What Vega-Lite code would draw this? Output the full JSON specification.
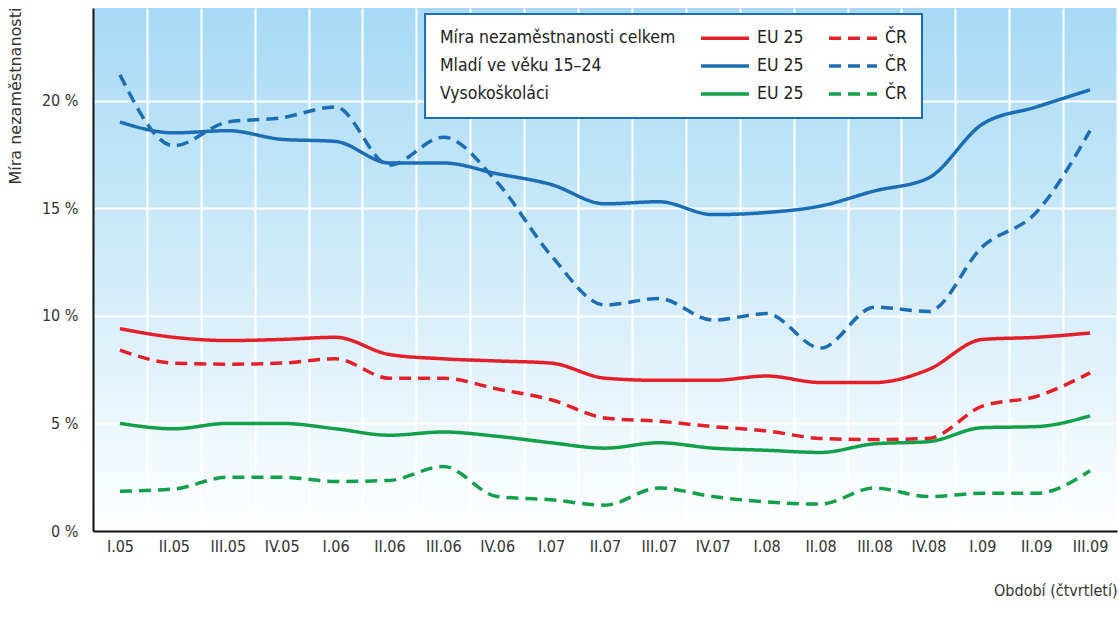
{
  "$schema": "https://vega.github.io/schema/vega-lite/v6.json",
  "width": 1024,
  "height": 523,
  "autosize": {"type": "none"},
  "padding": {"left": 93, "top": 8, "right": 2, "bottom": 96},
  "background": "#ffffff",
  "datasets": {
    "d": [
      {"q":"I.05","s":"tot_eu","v":9.4},{"q":"II.05","s":"tot_eu","v":9.0},{"q":"III.05","s":"tot_eu","v":8.85},{"q":"IV.05","s":"tot_eu","v":8.9},{"q":"I.06","s":"tot_eu","v":9.0},{"q":"II.06","s":"tot_eu","v":8.2},{"q":"III.06","s":"tot_eu","v":8.0},{"q":"IV.06","s":"tot_eu","v":7.9},{"q":"I.07","s":"tot_eu","v":7.8},{"q":"II.07","s":"tot_eu","v":7.1},{"q":"III.07","s":"tot_eu","v":7.0},{"q":"IV.07","s":"tot_eu","v":7.0},{"q":"I.08","s":"tot_eu","v":7.2},{"q":"II.08","s":"tot_eu","v":6.9},{"q":"III.08","s":"tot_eu","v":6.9},{"q":"IV.08","s":"tot_eu","v":7.5},{"q":"I.09","s":"tot_eu","v":8.9},{"q":"II.09","s":"tot_eu","v":9.0},{"q":"III.09","s":"tot_eu","v":9.2},
      {"q":"I.05","s":"tot_cz","v":8.4},{"q":"II.05","s":"tot_cz","v":7.8},{"q":"III.05","s":"tot_cz","v":7.75},{"q":"IV.05","s":"tot_cz","v":7.8},{"q":"I.06","s":"tot_cz","v":8.0},{"q":"II.06","s":"tot_cz","v":7.1},{"q":"III.06","s":"tot_cz","v":7.1},{"q":"IV.06","s":"tot_cz","v":6.6},{"q":"I.07","s":"tot_cz","v":6.1},{"q":"II.07","s":"tot_cz","v":5.25},{"q":"III.07","s":"tot_cz","v":5.1},{"q":"IV.07","s":"tot_cz","v":4.85},{"q":"I.08","s":"tot_cz","v":4.65},{"q":"II.08","s":"tot_cz","v":4.3},{"q":"III.08","s":"tot_cz","v":4.25},{"q":"IV.08","s":"tot_cz","v":4.3},{"q":"I.09","s":"tot_cz","v":5.8},{"q":"II.09","s":"tot_cz","v":6.25},{"q":"III.09","s":"tot_cz","v":7.35},
      {"q":"I.05","s":"you_eu","v":19.0},{"q":"II.05","s":"you_eu","v":18.5},{"q":"III.05","s":"you_eu","v":18.6},{"q":"IV.05","s":"you_eu","v":18.2},{"q":"I.06","s":"you_eu","v":18.1},{"q":"II.06","s":"you_eu","v":17.1},{"q":"III.06","s":"you_eu","v":17.1},{"q":"IV.06","s":"you_eu","v":16.6},{"q":"I.07","s":"you_eu","v":16.1},{"q":"II.07","s":"you_eu","v":15.2},{"q":"III.07","s":"you_eu","v":15.3},{"q":"IV.07","s":"you_eu","v":14.7},{"q":"I.08","s":"you_eu","v":14.8},{"q":"II.08","s":"you_eu","v":15.1},{"q":"III.08","s":"you_eu","v":15.8},{"q":"IV.08","s":"you_eu","v":16.4},{"q":"I.09","s":"you_eu","v":18.9},{"q":"II.09","s":"you_eu","v":19.7},{"q":"III.09","s":"you_eu","v":20.5},
      {"q":"I.05","s":"you_cz","v":21.2},{"q":"II.05","s":"you_cz","v":17.9},{"q":"III.05","s":"you_cz","v":19.0},{"q":"IV.05","s":"you_cz","v":19.2},{"q":"I.06","s":"you_cz","v":19.7},{"q":"II.06","s":"you_cz","v":17.0},{"q":"III.06","s":"you_cz","v":18.3},{"q":"IV.06","s":"you_cz","v":16.2},{"q":"I.07","s":"you_cz","v":12.8},{"q":"II.07","s":"you_cz","v":10.5},{"q":"III.07","s":"you_cz","v":10.8},{"q":"IV.07","s":"you_cz","v":9.8},{"q":"I.08","s":"you_cz","v":10.1},{"q":"II.08","s":"you_cz","v":8.5},{"q":"III.08","s":"you_cz","v":10.4},{"q":"IV.08","s":"you_cz","v":10.2},{"q":"I.09","s":"you_cz","v":13.2},{"q":"II.09","s":"you_cz","v":14.8},{"q":"III.09","s":"you_cz","v":18.6},
      {"q":"I.05","s":"ter_eu","v":5.0},{"q":"II.05","s":"ter_eu","v":4.75},{"q":"III.05","s":"ter_eu","v":5.0},{"q":"IV.05","s":"ter_eu","v":5.0},{"q":"I.06","s":"ter_eu","v":4.75},{"q":"II.06","s":"ter_eu","v":4.45},{"q":"III.06","s":"ter_eu","v":4.6},{"q":"IV.06","s":"ter_eu","v":4.4},{"q":"I.07","s":"ter_eu","v":4.1},{"q":"II.07","s":"ter_eu","v":3.85},{"q":"III.07","s":"ter_eu","v":4.1},{"q":"IV.07","s":"ter_eu","v":3.85},{"q":"I.08","s":"ter_eu","v":3.75},{"q":"II.08","s":"ter_eu","v":3.65},{"q":"III.08","s":"ter_eu","v":4.05},{"q":"IV.08","s":"ter_eu","v":4.15},{"q":"I.09","s":"ter_eu","v":4.8},{"q":"II.09","s":"ter_eu","v":4.85},{"q":"III.09","s":"ter_eu","v":5.35},
      {"q":"I.05","s":"ter_cz","v":1.85},{"q":"II.05","s":"ter_cz","v":1.95},{"q":"III.05","s":"ter_cz","v":2.5},{"q":"IV.05","s":"ter_cz","v":2.5},{"q":"I.06","s":"ter_cz","v":2.3},{"q":"II.06","s":"ter_cz","v":2.35},{"q":"III.06","s":"ter_cz","v":3.0},{"q":"IV.06","s":"ter_cz","v":1.6},{"q":"I.07","s":"ter_cz","v":1.45},{"q":"II.07","s":"ter_cz","v":1.2},{"q":"III.07","s":"ter_cz","v":2.0},{"q":"IV.07","s":"ter_cz","v":1.6},{"q":"I.08","s":"ter_cz","v":1.35},{"q":"II.08","s":"ter_cz","v":1.25},{"q":"III.08","s":"ter_cz","v":2.0},{"q":"IV.08","s":"ter_cz","v":1.6},{"q":"I.09","s":"ter_cz","v":1.75},{"q":"II.09","s":"ter_cz","v":1.75},{"q":"III.09","s":"ter_cz","v":2.8}
    ]
  },
  "data": {"name": "d"},
  "mark": {"type": "line", "interpolate": "monotone", "strokeWidth": 3.5, "strokeCap": "butt"},
  "encoding": {
    "x": {
      "field": "q", "type": "ordinal",
      "scale": {"type": "band", "paddingInner": 0, "paddingOuter": 0,
        "domain": ["I.05","II.05","III.05","IV.05","I.06","II.06","III.06","IV.06","I.07","II.07","III.07","IV.07","I.08","II.08","III.08","IV.08","I.09","II.09","III.09"]},
      "axis": {
        "title": "Období (čtvrtletí)", "labelAngle": 0, "ticks": false, "tickBand": "extent",
        "grid": true, "gridColor": "#ffffff", "gridWidth": 2, "gridOpacity": 1,
        "domain": true, "domainColor": "#111111", "domainWidth": 2,
        "labelFont": "Liberation Sans Narrow, DejaVu Sans Condensed, sans-serif", "labelFontSize": 16, "labelColor": "#333333", "labelPadding": 7,
        "titleFont": "Liberation Sans Narrow, DejaVu Sans Condensed, sans-serif", "titleFontSize": 16, "titleFontWeight": "normal", "titleColor": "#333333",
        "titleAnchor": "end", "titleAlign": "right", "titleX": 1024, "titleY": 64, "titleBaseline": "alphabetic"
      }
    },
    "y": {
      "field": "v", "type": "quantitative",
      "scale": {"domain": [0, 24.3], "nice": false, "zero": true},
      "axis": {
        "title": "Míra nezaměstnanosti", "values": [0, 5, 10, 15, 20], "labelExpr": "datum.value + ' %'",
        "ticks": false, "grid": true, "gridColor": "#ffffff", "gridWidth": 2, "gridOpacity": 1,
        "domain": true, "domainColor": "#111111", "domainWidth": 2,
        "labelFont": "Liberation Sans Narrow, DejaVu Sans Condensed, sans-serif", "labelFontSize": 16, "labelColor": "#333333", "labelPadding": 15,
        "titleFont": "DejaVu Sans, sans-serif", "titleFontSize": 16, "titleFontWeight": "normal", "titleColor": "#333333",
        "titleAngle": -90, "titleAlign": "left", "titleBaseline": "middle", "titleX": -78, "titleY": 176
      }
    },
    "color": {
      "field": "s", "type": "nominal",
      "scale": {
        "domain": ["t_tot","tot_eu","tot_cz","t_you","you_eu","you_cz","t_ter","ter_eu","ter_cz"],
        "range": ["#ffffff","#e3202a","#e3202a","#ffffff","#1c6db3","#1c6db3","#ffffff","#13a04b","#13a04b"]
      },
      "legend": {
        "title": null, "orient": "none", "legendX": 332, "legendY": 6, "columns": 3, "direction": "horizontal",
        "symbolType": "stroke", "symbolSize": 2300, "symbolStrokeWidth": 3.5,
        "columnPadding": 18, "rowPadding": 10, "padding": 15,
        "fillColor": "#ffffff", "strokeColor": "#1c6db3",
        "labelFont": "Liberation Sans Narrow, DejaVu Sans Condensed, sans-serif", "labelFontSize": 17.5, "labelColor": "#222222", "labelLimit": 400,
        "labelExpr": "datum.value == 't_tot' ? 'Míra nezaměstnanosti celkem' : datum.value == 't_you' ? 'Mladí ve věku 15–24' : datum.value == 't_ter' ? 'Vysokoškoláci' : (indexof(datum.value, '_eu') > 0 ? 'EU 25' : 'ČR')",
        "encode": {
          "symbols": {"update": {"x": {"signal": "indexof(datum.value, 't_') == 0 ? 0 : 24"}, "y": {"value": 9}, "opacity": {"signal": "indexof(datum.value, 't_') == 0 ? 0 : 1"}}},
          "labels": {"update": {"x": {"signal": "indexof(datum.value, 't_') == 0 ? 0 : 56"}, "y": {"value": 9}}}
        }
      }
    },
    "strokeDash": {
      "field": "s", "type": "nominal",
      "scale": {
        "domain": ["t_tot","tot_eu","tot_cz","t_you","you_eu","you_cz","t_ter","ter_eu","ter_cz"],
        "range": [[1,0],[1,0],[12,7],[1,0],[1,0],[12,7],[1,0],[1,0],[12,7]]
      },
      "legend": {
        "title": null, "orient": "none", "legendX": 332, "legendY": 6, "columns": 3, "direction": "horizontal",
        "symbolType": "stroke", "symbolSize": 2300, "symbolStrokeWidth": 3.5,
        "columnPadding": 18, "rowPadding": 10, "padding": 15,
        "fillColor": "#ffffff", "strokeColor": "#1c6db3",
        "labelFont": "Liberation Sans Narrow, DejaVu Sans Condensed, sans-serif", "labelFontSize": 17.5, "labelColor": "#222222", "labelLimit": 400,
        "labelExpr": "datum.value == 't_tot' ? 'Míra nezaměstnanosti celkem' : datum.value == 't_you' ? 'Mladí ve věku 15–24' : datum.value == 't_ter' ? 'Vysokoškoláci' : (indexof(datum.value, '_eu') > 0 ? 'EU 25' : 'ČR')",
        "encode": {
          "symbols": {"update": {"x": {"signal": "indexof(datum.value, 't_') == 0 ? 0 : 24"}, "y": {"value": 9}, "opacity": {"signal": "indexof(datum.value, 't_') == 0 ? 0 : 1"}}},
          "labels": {"update": {"x": {"signal": "indexof(datum.value, 't_') == 0 ? 0 : 56"}, "y": {"value": 9}}}
        }
      }
    }
  },
  "config": {
    "view": {
      "stroke": null,
      "fill": {"gradient": "linear", "x1": 0, "y1": 0, "x2": 0, "y2": 1,
        "stops": [{"offset": 0, "color": "#a7daf5"}, {"offset": 0.5, "color": "#d0ebf9"}, {"offset": 1, "color": "#ffffff"}]}
    },
    "legend": {"strokeWidth": 2}
  }
}
